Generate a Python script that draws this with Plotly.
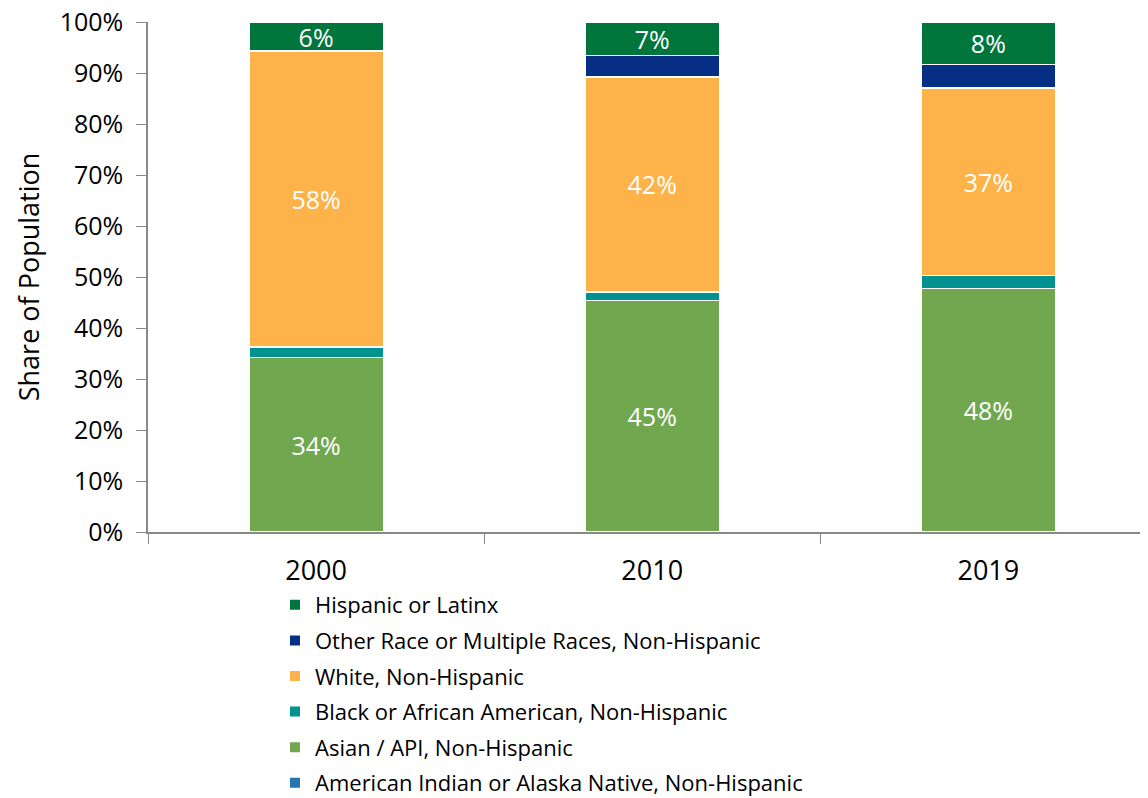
import plotly.graph_objects as go

years = ["2000", "2010", "2019"]

american_indian = [0.1, 0.1, 0.1]
asian = [34.1, 45.3, 47.6]
black = [2.1, 1.7, 2.6]
white = [58.0, 42.1, 36.8]
other_race = [0.0, 4.2, 4.6]
hispanic = [5.7, 6.6, 8.3]

series = [
    ("American Indian or Alaska Native, Non-Hispanic", american_indian, "#2473B3", False),
    ("Asian / API, Non-Hispanic", asian, "#71A74F", True),
    ("Black or African American, Non-Hispanic", black, "#009191", False),
    ("White, Non-Hispanic", white, "#FDB34A", True),
    ("Other Race or Multiple Races, Non-Hispanic", other_race, "#052E84", False),
    ("Hispanic or Latinx", hispanic, "#00763D", True),
]

font = "Open Sans, sans-serif"

fig = go.Figure()
for i, (name, vals, color, labeled) in enumerate(series):
    fig.add_trace(go.Bar(
        x=years, y=vals, name=name, legendgroup=name,
        legendrank=len(series) - i,  # top of stack listed first
        marker=dict(color=color, line=dict(color="white", width=1.5)),
        text=[f"{round(v)}%" for v in vals] if labeled else None,
        textposition="inside" if labeled else "none",
        insidetextanchor="middle",
        constraintext="none",
        textangle=0,
        textfont=dict(color="white", size=25, family=font),
        hoverinfo="name+y",
    ))

# page body has an 8px margin, so the figure is offset to compensate
fig.update_layout(
    barmode="stack",
    bargap=0.6,
    width=1140, height=798,
    margin=dict(l=140, r=0, t=14, b=274),
    plot_bgcolor="white", paper_bgcolor="white",
    font=dict(family=font, color="#000000"),
    legend=dict(
        orientation="v", traceorder="grouped",
        x=0.127, y=-0.102, xanchor="left", yanchor="top",
        font=dict(size=22, family=font), itemsizing="constant",
        tracegroupgap=4,
    ),
    xaxis=dict(
        range=[-0.5, 2.475], automargin=False,
        showline=True, linecolor="#888888", linewidth=1.5,
        ticks="outside", tickson="boundaries", ticklen=10, tickcolor="#888888",
        tickfont=dict(size=27, family=font), ticklabelstandoff=14,
        showgrid=False,
    ),
    yaxis=dict(
        range=[0, 100], dtick=10, ticksuffix="%", automargin=False,
        showline=True, linecolor="#888888", linewidth=1.5,
        ticks="outside", ticklen=10, tickcolor="#888888",
        tickfont=dict(size=25, family=font), ticklabelstandoff=8,
        ticklabeloverflow="allow",
        showgrid=False, zeroline=False,
        title=dict(text="Share of Population", font=dict(size=27, family=font), standoff=12),
    ),
)

fig.write_html("out.html")
